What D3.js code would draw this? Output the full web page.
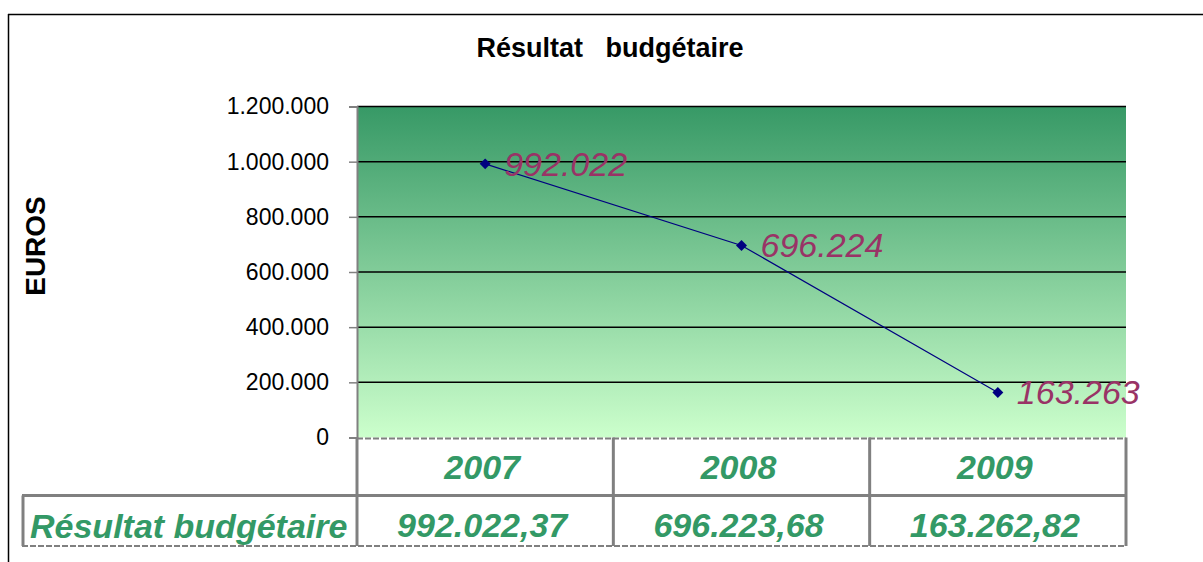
<!DOCTYPE html>
<html>
<head>
<meta charset="utf-8">
<script src="https://cdn.jsdelivr.net/npm/d3@7"></script>
<style>
  body { margin: 0; background: #fff; }
  svg { font-family: Arial, "Liberation Sans", sans-serif; }
</style>
</head>
<body>
<script>
// data
var years = ['2007', '2008', '2009'];
var values = [992022.37, 696223.68, 163262.82];
var pointLabels = ['992.022', '696.224', '163.263'];
var tableLabels = ['992.022,37', '696.223,68', '163.262,82'];
var yTicks = [0, 200000, 400000, 600000, 800000, 1000000, 1200000];

var width = 1203, height = 562;
var plotL = 357, plotR = 1126, plotT = 106.5, plotB = 437.5;

var svg = d3.select('body').append('svg')
    .attr('width', width).attr('height', height);

// outer frame (top and left only visible)
svg.append('line').attr('x1', 8).attr('x2', width).attr('y1', 14.5).attr('y2', 14.5)
    .attr('stroke', '#000').attr('stroke-width', 1.5);
svg.append('line').attr('x1', 8.5).attr('x2', 8.5).attr('y1', 14).attr('y2', height)
    .attr('stroke', '#000').attr('stroke-width', 1.5);

svg.append('text')
    .attr('x', 610).attr('y', 57)
    .attr('text-anchor', 'middle')
    .attr('font-weight', 'bold').attr('font-size', 27)
    .text('Résultat\u00a0\u00a0\u00a0budgétaire');

var x = d3.scaleBand().domain(years).range([plotL, plotR]);
var y = d3.scaleLinear().domain([0, 1200000]).range([plotB, plotT]);

// gradient background
var defs = svg.append('defs');
var grad = defs.append('linearGradient').attr('id', 'bg')
    .attr('x1', 0).attr('y1', 0).attr('x2', 0).attr('y2', 1);
grad.append('stop').attr('offset', '0%').attr('stop-color', '#379966');
grad.append('stop').attr('offset', '100%').attr('stop-color', '#ccffcc');

svg.append('rect')
    .attr('x', plotL).attr('y', plotT)
    .attr('width', plotR - plotL).attr('height', plotB - plotT)
    .attr('fill', 'url(#bg)');

// grid lines
svg.selectAll('.grid').data(yTicks.filter(function(d) { return d > 0; }))
    .enter().append('line')
    .attr('x1', plotL).attr('x2', plotR)
    .attr('y1', function(d) { return y(d); })
    .attr('y2', function(d) { return y(d); })
    .attr('stroke', '#000').attr('stroke-width', 1.5);

// y axis
var fmt = function(d) { return d3.format(',')(d).replace(/,/g, '.'); };
var yAxis = svg.append('g')
    .attr('transform', 'translate(' + plotL + ',0)')
    .call(d3.axisLeft(y).tickValues(yTicks).tickFormat(fmt).tickSize(8).tickPadding(20));
yAxis.select('.domain').attr('stroke', '#808080').attr('stroke-width', 2);
yAxis.selectAll('.tick line').attr('stroke', '#808080').attr('stroke-width', 1.5);
yAxis.selectAll('.tick text').attr('font-size', 23).attr('fill', '#000')
    .attr('font-family', 'Arial, "Liberation Sans", sans-serif');

svg.append('text')
    .attr('transform', 'translate(45,246) rotate(-90)')
    .attr('text-anchor', 'middle')
    .attr('font-weight', 'bold').attr('font-size', 28)
    .text('EUROS');

// line + markers
var cx = function(d, i) { return x(years[i]) + x.bandwidth() / 2; };
var line = d3.line()
    .x(function(d, i) { return cx(d, i); })
    .y(function(d) { return y(d); });

svg.append('path').datum(values)
    .attr('d', line)
    .attr('fill', 'none')
    .attr('stroke', '#000080').attr('stroke-width', 1.2);

svg.selectAll('.pt').data(values).enter().append('path')
    .attr('d', d3.symbol().type(d3.symbolSquare).size(60))
    .attr('transform', function(d, i) { return 'translate(' + cx(d, i) + ',' + y(d) + ') rotate(45)'; })
    .attr('fill', '#000080');

svg.selectAll('.lbl').data(values).enter().append('text')
    .attr('x', function(d, i) { return cx(d, i) + 19; })
    .attr('y', function(d) { return y(d) + 12; })
    .attr('font-style', 'italic').attr('font-size', 34)
    .attr('fill', '#993366')
    .text(function(d, i) { return pointLabels[i]; });

// data table
var grey = '#808080';
var rowMid = 495.5, rowBot = 546;
var tbl = svg.append('g').attr('stroke', grey).attr('stroke-width', 3);
tbl.append('line').attr('x1', plotL).attr('x2', plotR).attr('y1', plotB + 1).attr('y2', plotB + 1)
    .attr('stroke-dasharray', '6,2').attr('stroke-width', 2);
tbl.append('line').attr('x1', 22).attr('x2', plotR).attr('y1', rowMid).attr('y2', rowMid);
tbl.append('line').attr('x1', 22).attr('x2', plotR).attr('y1', rowBot).attr('y2', rowBot)
    .attr('stroke-dasharray', '6,2').attr('stroke-width', 2);
tbl.append('line').attr('x1', 23).attr('x2', 23).attr('y1', rowMid).attr('y2', rowBot);
tbl.selectAll('.vl').data(years).enter().append('line')
    .attr('x1', function(d) { return x(d); }).attr('x2', function(d) { return x(d); })
    .attr('y1', plotB).attr('y2', rowBot);
tbl.append('line').attr('x1', plotR).attr('x2', plotR).attr('y1', plotB).attr('y2', rowBot);

var green = '#339966';
svg.selectAll('.yr').data(years).enter().append('text')
    .attr('x', function(d) { return x(d) + x.bandwidth() / 2 - 3; })
    .attr('y', 479)
    .attr('text-anchor', 'middle')
    .attr('font-style', 'italic').attr('font-weight', 'bold').attr('font-size', 34)
    .attr('fill', green)
    .text(function(d) { return d; });

svg.selectAll('.tv').data(tableLabels).enter().append('text')
    .attr('x', function(d, i) { return x(years[i]) + x.bandwidth() / 2 - 3; })
    .attr('y', 537)
    .attr('text-anchor', 'middle')
    .attr('font-style', 'italic').attr('font-weight', 'bold').attr('font-size', 34)
    .attr('fill', green)
    .text(function(d) { return d; });

svg.append('text')
    .attr('x', 30).attr('y', 538)
    .attr('font-style', 'italic').attr('font-weight', 'bold').attr('font-size', 34)
    .attr('fill', green)
    .text('Résultat budgétaire');
</script>
</body>
</html>
